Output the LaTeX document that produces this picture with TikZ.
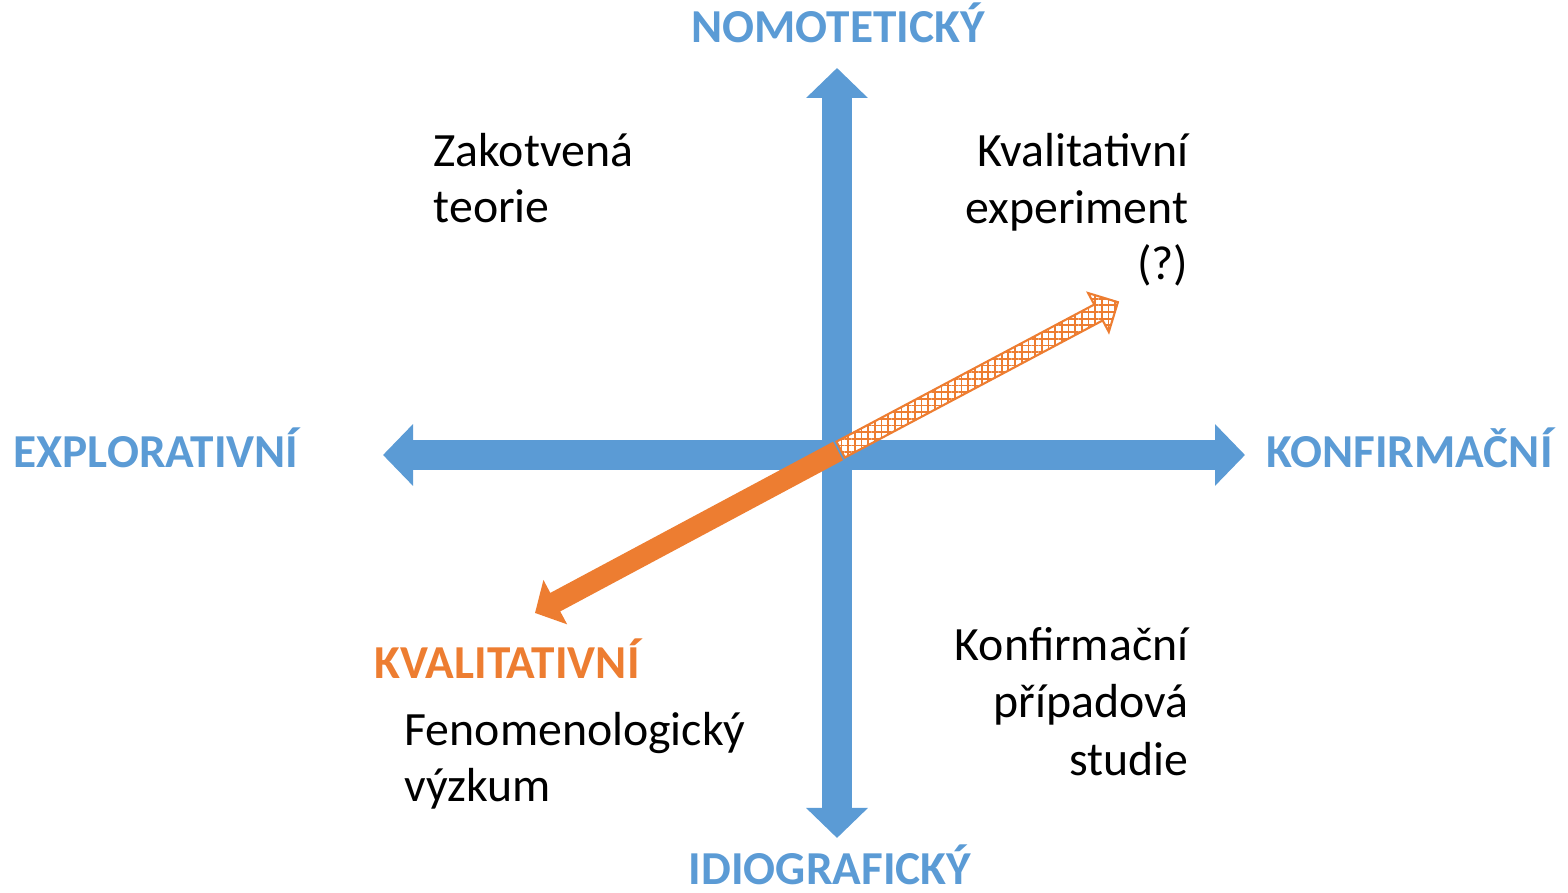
\documentclass[tikz,border=0pt]{standalone}
\usepackage{fontspec}
\setmainfont{Carlito}
\usetikzlibrary{arrows.meta,patterns.meta}
\definecolor{osablue}{RGB}{91,155,213}
\definecolor{osaorange}{RGB}{237,125,49}

\begin{document}
\begin{tikzpicture}[line cap=butt,line join=miter,x=1.0cm,y=1.0cm,
  axisarrow/.style={draw=osablue,line width=3mm,
    {Triangle[length=3mm,width=6mm]}-{Triangle[length=3mm,width=6mm]}},
  axislabel/.style={text=osablue,font=\fontsize{13.45}{15}\selectfont\bfseries,inner sep=0pt},
  fieldtext/.style={font=\fontsize{13.6}{16.2}\selectfont,inner sep=0pt}]

\useasboundingbox (0,0) rectangle (15.68,8.93);

% axes
\coordinate (ntop) at (8.37,8.25);
\coordinate (nbot) at (8.37,0.55);
\coordinate (eleft) at (3.83,4.38);
\coordinate (eright) at (12.45,4.38);
\draw[axisarrow] (nbot) -- (ntop);
\draw[axisarrow] (eleft) -- (eright);

% orange arrows
\coordinate (kcen) at (8.38,4.42);
\coordinate (kdown) at (5.35,2.80);
\draw[osaorange,line width=2.1mm,-{Triangle[length=2.3mm,width=4.9mm]}] (kcen) -- (kdown);
\begin{scope}[shift={(kcen)},rotate=28]
\draw[osaorange,line width=0.6pt,preaction={fill=white},
  pattern={Hatch[angle=0,distance=1.9pt,line width=0.5pt]},pattern color=osaorange]
  (0.03,-0.09) -- (2.95,-0.09) -- (2.95,-0.22) -- (3.17,0) -- (2.95,0.22) -- (2.95,0.09) -- (0.03,0.09) -- cycle;
\end{scope}

% axis labels
\node[axislabel,anchor=base] (nomo) at (8.38,8.50) {NOMOTETICKÝ};
\node[axislabel,anchor=base] (idio) at (8.30,0.08) {IDIOGRAFICKÝ};
\node[axislabel,anchor=base west] (expl) at (0.13,4.25) {EXPLORATIVNÍ};
\node[axislabel,anchor=base west] (konf) at (12.66,4.25) {KONFIRMAČNÍ};
\node[axislabel,anchor=base west,text=osaorange] (kval) at (3.74,2.14) {KVALITATIVNÍ};

% quadrants (base = last line)
\node[fieldtext,anchor=base west,align=left] (zako) at (4.33,6.70) {Zakotvená\\teorie};
\node[fieldtext,anchor=base east,align=right] (kexp) at (11.89,6.13) {Kvalitativní\\experiment\\(?)};
\node[fieldtext,anchor=base west,align=left] (feno) at (4.04,0.91) {Fenomenologický\\výzkum};
\node[fieldtext,anchor=base east,align=right,font=\fontsize{13.6}{16.5}\selectfont] (kpri) at (11.89,1.17) {Konfirmační\\případová\\studie};

\end{tikzpicture}
\end{document}
